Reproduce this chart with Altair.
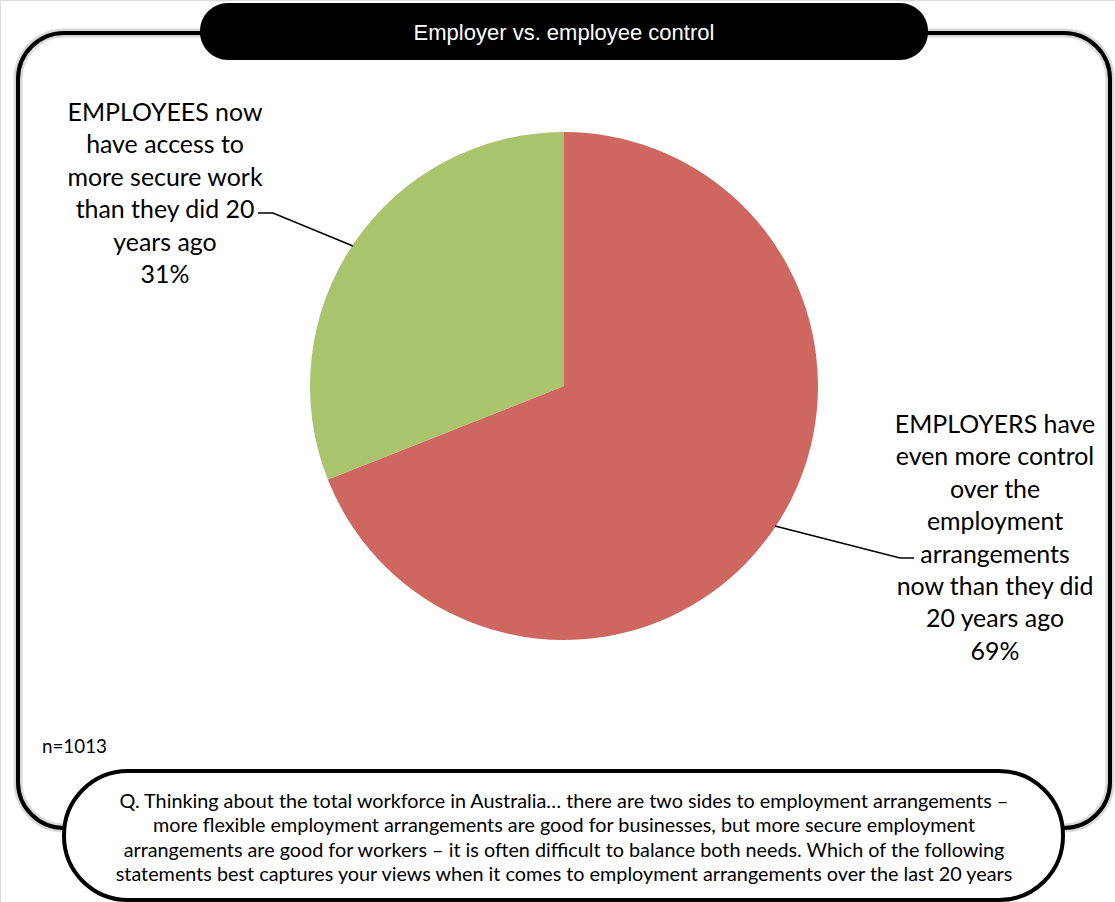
import altair as alt
import pandas as pd

# ---- data ----
categories = [
    "EMPLOYERS have even more control over the employment arrangements now than they did 20 years ago",
    "EMPLOYEES now have access to more secure work than they did 20 years ago",
]
shares = [69, 31]
colors = ["#CD6760", "#AAC36D"]

title_text = "Employer vs. employee control"
label_right = ["EMPLOYERS have", "even more control", "over the", "employment", "arrangements",
               "now than they did", "20 years ago", "69%"]
label_left = ["EMPLOYEES now", "have access to", "more secure work", "than they did 20", "years ago", "31%"]
sample_note = "n=1013"
question_lines = [
    "Q. Thinking about the total workforce in Australia\u2026 there are two sides to employment arrangements \u2013",
    "more flexible employment arrangements are good for businesses, but more secure employment",
    "arrangements are good for workers \u2013 it is often difficult to balance both needs. Which of the following",
    "statements best captures your views when it comes to employment arrangements over the last 20 years",
]

W, H = 1115, 902
FONT = "Lato"

pie_df = pd.DataFrame({"cat": categories, "share": shares, "idx": [0, 1]})
one = pd.DataFrame({"k": [0]})

def rect(x, x2, y, y2, **kw):
    return alt.Chart(one).mark_rect(**kw).encode(
        x=alt.value(x), x2=alt.value(x2), y=alt.value(y), y2=alt.value(y2))

# outer frame with soft shadow
frame_shadow = rect(18, 1110, 33, 828, cornerRadius=46, fill=None, filled=False,
                    stroke="#000000", strokeWidth=9, strokeOpacity=0.15)
frame = rect(18, 1110, 33, 828, cornerRadius=46, fill=None, filled=False,
             stroke="#000000", strokeWidth=4)

title_pill = rect(200, 928, 3, 60, cornerRadius=28, color="#000000")
title = alt.Chart(one).mark_text(font="Liberation Sans", fontSize=22, color="white",
                                 align="center", baseline="middle").encode(
    x=alt.value(564), y=alt.value(33), text=alt.value(title_text))

pie = alt.Chart(pie_df).mark_arc(outerRadius=254, stroke=None).encode(
    theta=alt.Theta("share:Q", stack=True),
    order=alt.Order("idx:Q"),
    color=alt.Color("cat:N", scale=alt.Scale(domain=categories, range=colors), legend=None, sort=None),
    x=alt.value(564), y=alt.value(386),
)

leader_left = alt.Chart(pd.DataFrame({"px": [258, 273, 353], "py": [213, 213, 246], "o": [0, 1, 2]})).mark_line(
    color="black", strokeWidth=1.6).encode(
    x=alt.X("px:Q", scale=alt.Scale(domain=[0, W]), axis=None),
    y=alt.Y("py:Q", scale=alt.Scale(domain=[H, 0]), axis=None),
    order="o:Q")
leader_right = alt.Chart(pd.DataFrame({"px": [775, 900, 914], "py": [526, 558, 558], "o": [0, 1, 2]})).mark_line(
    color="black", strokeWidth=1.6).encode(
    x=alt.X("px:Q", scale=alt.Scale(domain=[0, W]), axis=None),
    y=alt.Y("py:Q", scale=alt.Scale(domain=[H, 0]), axis=None),
    order="o:Q")

lbl_left = alt.Chart(one).mark_text(font=FONT, fontSize=24.9, lineHeight=32.4, color="#000000",
                                    align="center", baseline="top").encode(
    x=alt.value(165), y=alt.value(101), text=alt.value(label_left))
lbl_right = alt.Chart(one).mark_text(font=FONT, fontSize=24.9, lineHeight=32.4, color="#000000",
                                     align="center", baseline="top").encode(
    x=alt.value(995), y=alt.value(413), text=alt.value(label_right))

note = alt.Chart(one).mark_text(font=FONT, fontSize=18.8, color="#000000",
                                align="left", baseline="middle").encode(
    x=alt.value(42), y=alt.value(747), text=alt.value(sample_note))

q_pill = rect(64, 1063, 771, 900, cornerRadius=64, fill="white", stroke="#000000", strokeWidth=4)
q_text = alt.Chart(one).mark_text(font=FONT, fontSize=19.8, lineHeight=24.3, color="#000000",
                                  align="center", baseline="top").encode(
    x=alt.value(564), y=alt.value(792), text=alt.value(question_lines))

chart = alt.layer(
    frame_shadow, frame, title_pill, title, pie, leader_left, leader_right,
    lbl_left, lbl_right, note, q_pill, q_text,
).properties(width=W, height=H, autosize=alt.AutoSizeParams(type="none"), padding=0
).configure_view(stroke=None).configure(background="white")

chart.save("out.html", embed_options={"renderer": "svg", "actions": False})
